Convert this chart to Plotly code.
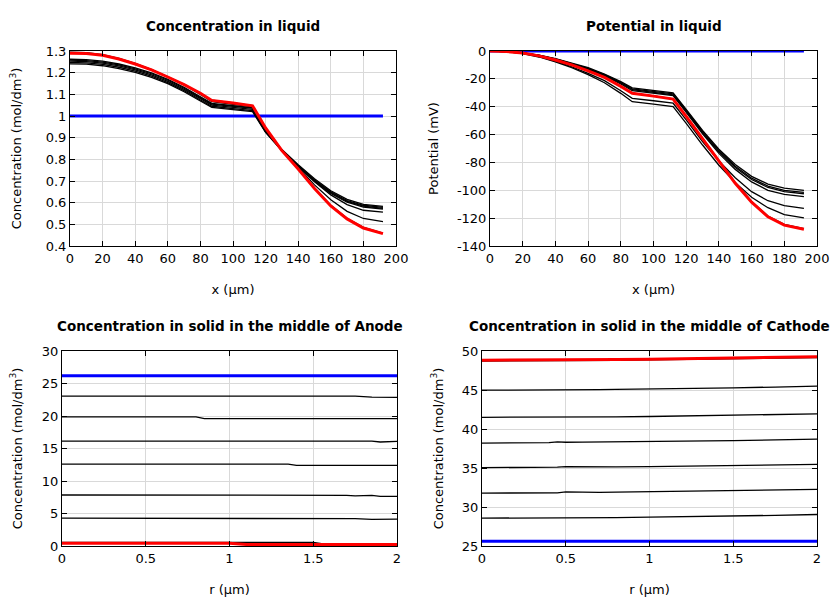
import plotly.graph_objects as go

# ---------------- data ----------------
X_LIQ = [0, 10, 20, 30, 40, 50, 60, 70, 80, 87, 100, 112, 120, 130, 140, 150, 160, 170, 180, 192]

CL_BLUE = [1.0] * 20
CL_BLACK = [
    [1.258, 1.256, 1.249, 1.236, 1.218, 1.195, 1.165, 1.128, 1.085, 1.055, 1.045, 1.036, 0.930, 0.845, 0.775, 0.710, 0.655, 0.615, 0.592, 0.583],
    [1.253, 1.251, 1.244, 1.231, 1.213, 1.190, 1.160, 1.123, 1.080, 1.050, 1.040, 1.031, 0.928, 0.843, 0.772, 0.706, 0.650, 0.610, 0.588, 0.578],
    [1.247, 1.245, 1.238, 1.225, 1.207, 1.184, 1.154, 1.117, 1.074, 1.045, 1.034, 1.025, 0.926, 0.841, 0.769, 0.702, 0.646, 0.606, 0.584, 0.574],
    [1.241, 1.239, 1.232, 1.219, 1.201, 1.178, 1.149, 1.112, 1.069, 1.040, 1.029, 1.020, 0.924, 0.839, 0.766, 0.699, 0.642, 0.602, 0.580, 0.570],
    [1.262, 1.260, 1.253, 1.240, 1.222, 1.199, 1.169, 1.132, 1.089, 1.058, 1.048, 1.038, 0.930, 0.843, 0.768, 0.697, 0.636, 0.591, 0.565, 0.556],
    [1.295, 1.292, 1.283, 1.266, 1.243, 1.214, 1.180, 1.143, 1.100, 1.066, 1.054, 1.042, 0.935, 0.842, 0.762, 0.682, 0.613, 0.560, 0.527, 0.513],
    [1.292, 1.289, 1.281, 1.264, 1.241, 1.214, 1.181, 1.146, 1.106, 1.073, 1.061, 1.048, 0.945, 0.840, 0.756, 0.667, 0.588, 0.528, 0.486, 0.460],
]
CL_RED = [1.290, 1.288, 1.280, 1.263, 1.240, 1.213, 1.180, 1.145, 1.105, 1.072, 1.060, 1.047, 0.945, 0.840, 0.755, 0.665, 0.585, 0.525, 0.483, 0.457]

PL_BLUE = [0.0] * 20
PL_BLACK = [
    [0, -0.30, -1.30, -3.0, -5.5, -8.5, -12.0, -16.5, -22.0, -26.5, -28.5, -30.0, -42.0, -57.0, -70.5, -81.5, -90.0, -95.5, -98.5, -100.0],
    [0, -0.30, -1.30, -3.1, -5.7, -8.8, -12.4, -17.0, -22.6, -27.2, -29.2, -30.7, -42.7, -57.8, -71.5, -82.7, -91.3, -97.0, -100.0, -101.5],
    [0, -0.35, -1.40, -3.2, -5.9, -9.1, -12.8, -17.5, -23.1, -27.8, -29.8, -31.4, -43.4, -58.6, -72.4, -83.6, -92.3, -98.0, -101.0, -102.5],
    [0, -0.35, -1.45, -3.3, -6.1, -9.4, -13.2, -18.0, -23.7, -28.5, -30.5, -32.0, -44.0, -59.4, -73.5, -85.0, -94.0, -100.0, -103.0, -104.5],
    [0, -0.40, -1.70, -4.0, -7.3, -11.3, -16.0, -21.3, -28.5, -34.0, -35.7, -37.5, -49.5, -65.0, -79.0, -91.0, -101.0, -107.5, -111.0, -113.0],
    [0, -0.45, -1.80, -4.3, -7.8, -12.0, -17.0, -22.8, -30.4, -36.4, -38.2, -40.0, -52.0, -67.5, -82.0, -94.5, -105.0, -112.5, -117.5, -119.8],
    [0, -0.35, -1.50, -3.5, -6.5, -10.0, -14.2, -19.0, -25.3, -30.2, -32.2, -34.3, -46.8, -62.8, -78.8, -94.5, -108.0, -118.5, -124.5, -127.5],
]
PL_RED = [0, -0.35, -1.5, -3.5, -6.5, -10.0, -14.2, -19.0, -25.4, -30.4, -32.4, -34.5, -47.0, -63.0, -79.0, -95.0, -108.5, -119.0, -125.0, -128.0]

R_AN = [0, 0.5, 0.8, 0.85, 1.0, 1.1, 1.35, 1.4, 1.5, 1.55, 1.7, 1.75, 1.85, 1.9, 2.0]
CA_BLUE = [26.2] * 15
CA_BLACK = [
    [23.05, 23.05, 23.05, 23.05, 23.05, 23.05, 23.05, 23.05, 23.05, 23.05, 23.05, 23.05, 22.9, 22.85, 22.85],
    [19.85, 19.85, 19.85, 19.6, 19.6, 19.6, 19.6, 19.6, 19.6, 19.6, 19.6, 19.6, 19.55, 19.58, 19.6],
    [16.15, 16.15, 16.15, 16.15, 16.15, 16.15, 16.15, 16.15, 16.15, 16.15, 16.15, 16.15, 16.15, 16.0, 16.1],
    [12.6, 12.6, 12.6, 12.6, 12.6, 12.6, 12.6, 12.4, 12.4, 12.4, 12.45, 12.4, 12.42, 12.4, 12.4],
    [7.85, 7.85, 7.85, 7.85, 7.85, 7.85, 7.85, 7.85, 7.85, 7.75, 7.8, 7.7, 7.8, 7.65, 7.65],
    [4.3, 4.3, 4.3, 4.3, 4.3, 4.3, 4.3, 4.3, 4.3, 4.3, 4.3, 4.2, 4.1, 4.1, 4.15],
    [0.55, 0.55, 0.55, 0.55, 0.55, 0.55, 0.55, 0.55, 0.55, 0.35, 0.35, 0.35, 0.35, 0.35, 0.35],
]
CA_RED = [0.42, 0.42, 0.42, 0.42, 0.42, 0.25, 0.25, 0.25, 0.25, 0.25, 0.25, 0.25, 0.25, 0.25, 0.25]

R_CA = [0, 0.25, 0.4, 0.45, 0.5, 0.6, 0.65, 0.7, 0.8, 1.0, 1.25, 1.5, 1.75, 2.0]
CC_BLUE = [25.6] * 14
CC_BLACK = [
    [28.57, 28.57, 28.57, 28.58, 28.6, 28.65, 28.6, 28.58, 28.65, 28.7, 28.76, 28.84, 28.93, 29.04],
    [31.78, 31.78, 31.78, 31.82, 31.95, 31.9, 31.88, 31.88, 31.9, 31.95, 32.02, 32.1, 32.18, 32.27],
    [35.05, 35.05, 35.08, 35.1, 35.18, 35.15, 35.12, 35.12, 35.14, 35.18, 35.24, 35.3, 35.38, 35.46],
    [38.2, 38.2, 38.25, 38.35, 38.3, 38.32, 38.33, 38.3, 38.32, 38.38, 38.45, 38.52, 38.6, 38.7],
    [41.5, 41.5, 41.5, 41.52, 41.48, 41.5, 41.5, 41.52, 41.55, 41.6, 41.68, 41.75, 41.84, 41.94],
    [44.98, 44.98, 44.99, 45.05, 45.0, 45.03, 45.04, 45.05, 45.08, 45.12, 45.2, 45.28, 45.38, 45.5],
    [48.72, 48.72, 48.72, 48.73, 48.74, 48.76, 48.77, 48.78, 48.8, 48.85, 48.93, 49.0, 49.08, 49.16],
]
CC_RED = [48.82, 48.82, 48.82, 48.83, 48.84, 48.86, 48.87, 48.88, 48.9, 48.95, 49.03, 49.1, 49.18, 49.27]

# tick values / labels (hyphen minus as in the reference)
XT_LIQ = [0, 20, 40, 60, 80, 100, 120, 140, 160, 180, 200]
XT_R = [0, 0.5, 1, 1.5, 2]
XT_R_TEXT = ["0", "0.5", "1", "1.5", "2"]
YT_CL = [0.4, 0.5, 0.6, 0.7, 0.8, 0.9, 1.0, 1.1, 1.2, 1.3]
YT_CL_TEXT = ["0.4", "0.5", "0.6", "0.7", "0.8", "0.9", "1", "1.1", "1.2", "1.3"]
YT_PL = [-140, -120, -100, -80, -60, -40, -20, 0]
YT_PL_TEXT = ["-140", "-120", "-100", "-80", "-60", "-40", "-20", "0"]
YT_CA = [0, 5, 10, 15, 20, 25, 30]
YT_CC = [25, 30, 35, 40, 45, 50]

TITLES = ["Concentration in liquid", "Potential in liquid",
          "Concentration in solid in the middle of Anode",
          "Concentration in solid in the middle of Cathode"]

# ---------------- figure ----------------
FONT = "DejaVu Sans"
OFF = 8                      # page body margin of the html page
W, H = 840 - OFF, 600 - OFF
fig = go.Figure()

panels = [
    ("x", "y", X_LIQ, CL_BLUE, CL_BLACK, CL_RED),
    ("x2", "y2", X_LIQ, PL_BLUE, PL_BLACK, PL_RED),
    ("x3", "y3", R_AN, CA_BLUE, CA_BLACK, CA_RED),
    ("x4", "y4", R_CA, CC_BLUE, CC_BLACK, CC_RED),
]
for xa, ya, xs, blue, blacks, red in panels:
    fig.add_trace(go.Scatter(x=xs, y=blue, mode="lines", line=dict(color="#0000ff", width=3),
                             xaxis=xa, yaxis=ya, showlegend=False, hoverinfo="skip"))
    for b in blacks:
        fig.add_trace(go.Scatter(x=xs, y=b, mode="lines", line=dict(color="black", width=1.3),
                                 xaxis=xa, yaxis=ya, showlegend=False, hoverinfo="skip"))
    fig.add_trace(go.Scatter(x=xs, y=red, mode="lines", line=dict(color="#ff0000", width=3),
                             xaxis=xa, yaxis=ya, showlegend=False, hoverinfo="skip"))

# plot-area boxes in screen pixels (left, right, top, bottom)
boxes = [(70, 396, 51, 246), (490, 817, 51, 246), (62, 397, 351, 546), (482, 817, 351, 546)]
Y_STANDOFF = [24, 15, 16, 15]

def axis_common():
    return dict(showline=True, linecolor="black", linewidth=1, mirror="ticks",
                ticks="inside", ticklen=5, tickcolor="black", automargin=False,
                showgrid=True, gridcolor="#d9d9d9", gridwidth=1, zeroline=False,
                tickfont=dict(family=FONT, size=13, color="black"))

xcfg = [dict(range=[0, 200], tv=XT_LIQ, tt=[str(v) for v in XT_LIQ], title="x (µm)"),
        dict(range=[0, 200], tv=XT_LIQ, tt=[str(v) for v in XT_LIQ], title="x (µm)"),
        dict(range=[0, 2], tv=XT_R, tt=XT_R_TEXT, title="r (µm)"),
        dict(range=[0, 2], tv=XT_R, tt=XT_R_TEXT, title="r (µm)")]
ycfg = [dict(range=[0.4, 1.3], tv=YT_CL, tt=YT_CL_TEXT, title="Concentration (mol/dm<sup>3</sup>)"),
        dict(range=[-140, 0], tv=YT_PL, tt=YT_PL_TEXT, title="Potential (mV)"),
        dict(range=[0, 30], tv=YT_CA, tt=[str(v) for v in YT_CA], title="Concentration (mol/dm<sup>3</sup>)"),
        dict(range=[25, 50], tv=YT_CC, tt=[str(v) for v in YT_CC], title="Concentration (mol/dm<sup>3</sup>)")]

layout = {}
annotations = []
for i, ((l, r, t, b), xc, yc) in enumerate(zip(boxes, xcfg, ycfg)):
    l, r, t, b = l - OFF, r - OFF, t - OFF, b - OFF
    n = "" if i == 0 else str(i + 1)
    xa = axis_common()
    xa.update(domain=[l / W, r / W], anchor="y" + n, range=xc["range"],
              tickmode="array", tickvals=xc["tv"], ticktext=xc["tt"],
              title=dict(text=xc["title"], font=dict(family=FONT, size=13, color="black"), standoff=20))
    ya = axis_common()
    ya.update(domain=[1 - b / H, 1 - t / H], anchor="x" + n, range=yc["range"],
              tickmode="array", tickvals=yc["tv"], ticktext=yc["tt"],
              title=dict(text=yc["title"], font=dict(family=FONT, size=13, color="black"),
                         standoff=Y_STANDOFF[i]))
    layout["xaxis" + n] = xa
    layout["yaxis" + n] = ya
    annotations.append(dict(text="<b>" + TITLES[i] + "</b>", x=(l + r) / 2 / W, y=1 - (t - 25) / H,
                            xref="paper", yref="paper", xanchor="center", yanchor="middle",
                            showarrow=False, font=dict(family=FONT, size=13.5, color="black")))

fig.update_layout(**layout)
fig.update_layout(width=W, height=H, margin=dict(l=0, r=0, t=0, b=0),
                  plot_bgcolor="white", paper_bgcolor="white",
                  annotations=annotations, font=dict(family=FONT, color="black"))

fig.write_html("out.html")
